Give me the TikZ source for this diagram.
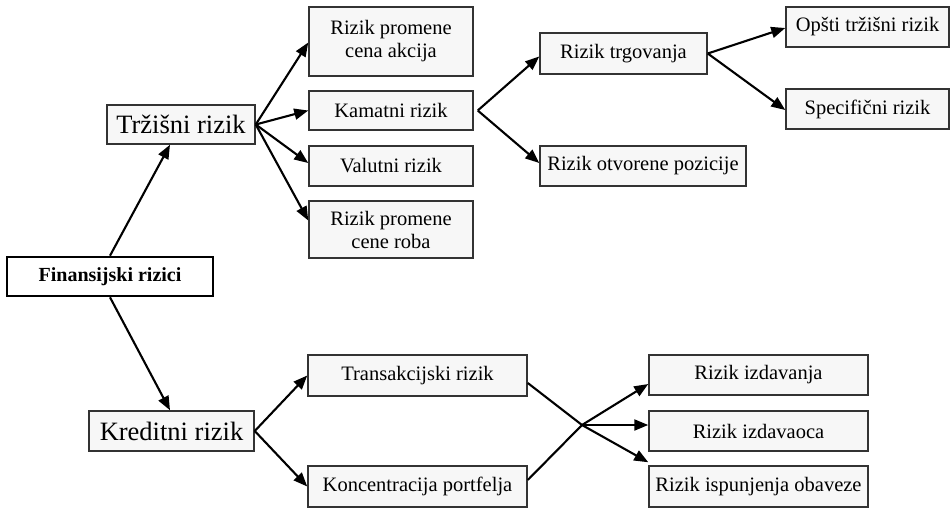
\documentclass[tikz,border=0pt]{standalone}
\usepackage{fontspec}
\setmainfont{Liberation Serif}
\usetikzlibrary{arrows.meta}
\definecolor{boxfill}{HTML}{F7F7F7}
\definecolor{boxline}{HTML}{333333}
\begin{document}
\begin{tikzpicture}[x=1pt,y=-1pt,
  riskbox/.style={draw=boxline,line width=1.5pt,fill=boxfill,inner sep=0pt,
    font=\fontsize{20.5}{23}\selectfont,align=center},
  bigbox/.style={riskbox,font=\fontsize{26.5}{30}\selectfont},
  rootbox/.style={riskbox,draw=black,line width=2.6pt,fill=white,
    font=\fontsize{20}{22}\selectfont\bfseries},
  link/.style={line width=2.1pt,-{Triangle[length=14pt,width=11pt]}}]
\useasboundingbox (0,0) rectangle (950,509);

% root
\node[rootbox,minimum width=206pt,minimum height=39pt] (fin) at (110,276.5) {Finansijski rizici};

% market risk branch
\node[bigbox,minimum width=148pt,minimum height=39pt] (trz) at (181,124.5) {Tržišni rizik};
\node[riskbox,minimum width=164pt,minimum height=69pt] (akc) at (391,41.5) {Rizik promene\\cena akcija};
\node[riskbox,minimum width=164pt,minimum height=39pt] (kam) at (391,110.5) {Kamatni rizik};
\node[riskbox,minimum width=164pt,minimum height=40pt] (val) at (391,166) {Valutni rizik};
\node[riskbox,minimum width=164pt,minimum height=57pt] (rob) at (391,229.5) {Rizik promene\\cene roba};
\node[riskbox,minimum width=167pt,minimum height=41pt] (trg) at (623.5,53.5) {Rizik trgovanja};
\node[riskbox,minimum width=206pt,minimum height=40pt] (otv) at (643,166) {Rizik otvorene pozicije};
\node[riskbox,minimum width=163pt,minimum height=40pt] (opt) at (867.5,27) {Opšti tržišni rizik};
\node[riskbox,minimum width=163pt,minimum height=40pt] (spe) at (867.5,109) {Specifični rizik};

% credit risk branch
\node[bigbox,minimum width=165pt,minimum height=40pt] (kre) at (171.5,431) {Kreditni rizik};
\node[riskbox,minimum width=219pt,minimum height=41pt] (tra) at (417.5,375.5) {Transakcijski rizik};
\node[riskbox,minimum width=219pt,minimum height=41pt] (kon) at (417.5,486.5) {Koncentracija portfelja};
\node[riskbox,minimum width=219pt,minimum height=40pt] (izd) at (758.5,375) {Rizik izdavanja};
\node[riskbox,minimum width=219pt,minimum height=40pt] (izo) at (758.5,431) {Rizik izdavaoca};
\node[riskbox,minimum width=219pt,minimum height=41pt] (isp) at (758.5,486.5) {Rizik ispunjenja obaveze};
\coordinate (cross) at (582,425);

% connectors
\draw[link] (fin.north) -- ([xshift=-11pt]trz.south);
\draw[link] (fin.south) -- ([xshift=-1.5pt]kre.north);

\draw[link] (trz.east) -- ([yshift=-1pt]akc.west);
\draw[link] (trz.east) -- (kam.west);
\draw[link] (trz.east) -- ([yshift=3pt]val.west);
\draw[link] (trz.east) -- ([yshift=9pt]rob.west);

\draw[link] ([xshift=4pt]kam.east) -- ([yshift=-3pt]trg.west);
\draw[link] ([xshift=4pt]kam.east) -- ([yshift=3pt]otv.west);
\draw[link] (trg.east) -- ([yshift=-1pt]opt.west);
\draw[link] (trg.east) -- ([yshift=-1pt]spe.west);

\draw[link] (kre.east) -- (tra.west);
\draw[link] (kre.east) -- (kon.west);
\draw[link] ([yshift=-7.5pt]tra.east) -- (cross) -- ([yshift=3pt]isp.north west);
\draw[link] ([yshift=6.5pt]kon.east) -- (cross) -- ([yshift=-9pt]izd.west);
\draw[link] (cross) -- ([yshift=6pt]izo.west);
\end{tikzpicture}
\end{document}
